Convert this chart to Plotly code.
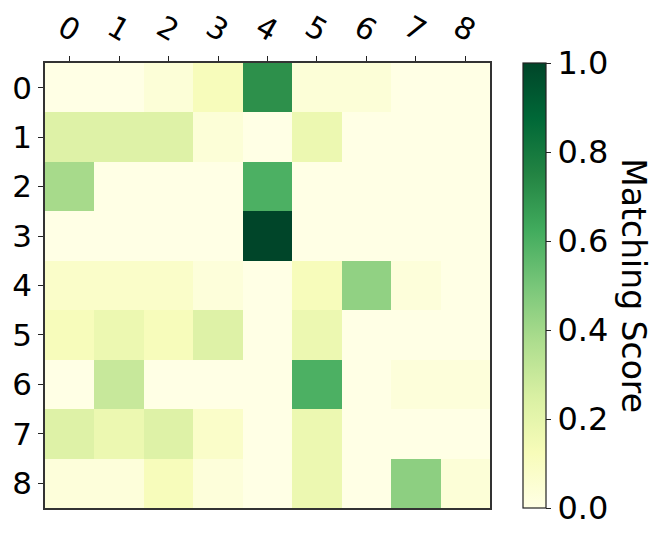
import plotly.graph_objects as go

labels = [0, 1, 2, 3, 4, 5, 6, 7, 8]

# matching scores, rows = y label, columns = x label
scores = [
    [0.00, 0.00, 0.04, 0.12, 0.71, 0.04, 0.04, 0.00, 0.00],
    [0.23, 0.23, 0.23, 0.04, 0.00, 0.17, 0.00, 0.00, 0.00],
    [0.39, 0.00, 0.00, 0.00, 0.60, 0.00, 0.00, 0.00, 0.00],
    [0.00, 0.00, 0.00, 0.00, 1.00, 0.00, 0.00, 0.00, 0.00],
    [0.08, 0.08, 0.08, 0.03, 0.00, 0.12, 0.44, 0.03, 0.00],
    [0.12, 0.17, 0.12, 0.23, 0.00, 0.17, 0.00, 0.00, 0.00],
    [0.00, 0.30, 0.00, 0.00, 0.00, 0.60, 0.00, 0.03, 0.03],
    [0.23, 0.17, 0.23, 0.08, 0.00, 0.17, 0.00, 0.00, 0.00],
    [0.03, 0.03, 0.12, 0.03, 0.00, 0.17, 0.00, 0.45, 0.04],
]

cbar_ticks = [0, 0.2, 0.4, 0.6, 0.8, 1.0]

ylgn = ["#ffffe5", "#f7fcb9", "#d9f0a3", "#addd8e", "#78c679",
        "#41ab5d", "#238443", "#006837", "#004529"]
cscale = [[i / 8, c] for i, c in enumerate(ylgn)]

font = "DejaVu Sans"

fig = go.Figure(go.Heatmap(
    z=scores, x=labels, y=labels,
    zmin=0, zmax=1, colorscale=cscale,
    colorbar=dict(
        thickness=23, len=1, lenmode="fraction", y=0.5, yanchor="middle",
        x=1.074, xanchor="left", xpad=0, ypad=0,
        outlinecolor="#222", outlinewidth=1.2,
        tickvals=cbar_ticks, ticktext=[f"{v:.1f}" for v in cbar_ticks],
        ticks="outside", ticklen=5, tickcolor="#222",
        tickfont=dict(family=font, size=32, color="black"),
    ),
))

fig.update_xaxes(
    side="top", tickvals=labels, tickangle=30, ticks="outside", ticklen=5,
    tickcolor="#222", showline=True, linecolor="#333", linewidth=1.5, mirror=True,
    showgrid=False, zeroline=False, range=[-0.5, 8.5], automargin=False,
    ticklabelshift=10,
    tickfont=dict(family=font, size=30, color="black"),
)
fig.update_yaxes(
    tickvals=labels, ticks="outside", ticklen=5, tickcolor="#222",
    showline=True, linecolor="#333", linewidth=1.5, mirror=True,
    showgrid=False, zeroline=False, range=[8.5, -0.5], automargin=False,
    tickfont=dict(family=font, size=31, color="black"),
)

fig.add_annotation(
    text="Matching Score", textangle=90, xref="paper", yref="paper",
    x=1.37, y=0.5, showarrow=False,
    font=dict(family=font, size=33, color="black"),
)

# body margin of the page is 8px, so shift the margins back by that
fig.update_layout(
    width=665, height=541,
    margin=dict(l=37, r=183, t=55, b=41),
    paper_bgcolor="white", plot_bgcolor="white",
)

fig.write_html("out.html")
